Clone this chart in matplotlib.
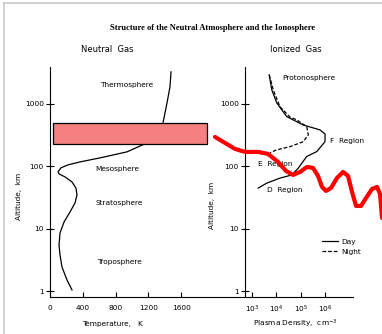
import numpy as np
import matplotlib
matplotlib.use("Agg")
import matplotlib.pyplot as plt
from matplotlib.patches import Rectangle
from matplotlib.lines import Line2D

# neutral gas: temperature profile (K) vs altitude (km)
temp_k = [268, 207, 146, 122, 110, 122, 171, 244, 305, 329, 317, 268, 183, 110, 98,
          134, 220, 366, 610, 939, 1183, 1305, 1378, 1427, 1463, 1476]
temp_alt = [1.06, 1.53, 2.47, 3.84, 5.55, 8.63, 12.9, 18.7, 26, 35, 45, 56.5, 68, 76, 82,
            95, 106, 118, 137, 171, 238, 319, 497, 1037, 1871, 3250]

# ionized gas: plasma density (cm^-3) vs altitude (km)
day_n = [5.1e3, 6.5e3, 1.04e4, 2.67e4, 1.25e5, 6.2e5, 1.0e6, 1.0e6, 4.6e5, 1.77e5,
         1.1e5, 8.0e4, 4.3e4, 1.4e4, 4.0e3, 1.8e3]
day_alt = [2910, 1675, 1038, 627, 461, 384, 331, 249, 173, 144, 112, 94, 73, 65, 54, 45]
night_n = [5.1e3, 7.5e3, 1.4e4, 3.6e4, 6.9e4, 1.77e5, 2.06e5, 1.28e5, 3.65e4, 1.04e4, 5.5e3]
night_alt = [2910, 1675, 905, 617, 555, 433, 319, 249, 207, 184, 166]

# overlay marks (red box on left panel, red wave in right panel coords, log10 values)
box_t = [37, 1915]
box_alt = [229, 497]
wave_logn = [1.479, 1.890, 2.301, 2.712, 3.247, 3.658, 4.069, 4.397, 4.685, 4.973, 5.261,
             5.507, 5.713, 5.877, 6.041, 6.247, 6.494, 6.740, 6.946, 7.110, 7.275, 7.480,
             7.686, 7.932, 8.138, 8.261, 8.343]
wave_logalt = [2.472, 2.376, 2.280, 2.232, 2.232, 2.200, 2.072, 1.928, 1.864, 1.912, 1.992,
               1.976, 1.848, 1.672, 1.608, 1.656, 1.816, 1.912, 1.848, 1.592, 1.368, 1.368,
               1.496, 1.640, 1.672, 1.560, 1.176]

W, H = 382, 334
fig = plt.figure(figsize=(W / 100, H / 100), dpi=100)
fig.patch.set_facecolor("white")

sans = "DejaVu Sans"
fs = 5.3

def ax_rect(x0, x1, y0, y1):
    return [x0 / W, 1 - y1 / H, (x1 - x0) / W, (y1 - y0) / H]

ylim = (10 ** -0.088, 10 ** 3.59)

ax1 = fig.add_axes(ax_rect(50, 245, 67, 297))
ax2 = fig.add_axes(ax_rect(245, 353, 67, 297))

for ax in (ax1, ax2):
    ax.set_facecolor("none")
    ax.set_yscale("log")
    ax.set_ylim(*ylim)
    for s in ("top", "right"):
        ax.spines[s].set_visible(False)
    for s in ("left", "bottom"):
        ax.spines[s].set_linewidth(0.8)
    ax.set_yticks([1, 10, 100, 1000])
    ax.set_yticklabels(["1", "10", "100", "1000"])
    ax.yaxis.set_minor_locator(matplotlib.ticker.NullLocator())
    ax.tick_params(axis="y", direction="inout", length=6, width=0.8, pad=1.5, labelsize=fs)
    ax.tick_params(axis="x", direction="in", length=3.5, width=0.8, pad=5.5, labelsize=fs)

# left panel
ax1.set_xlim(0, 2378)
ax1.set_xticks([0, 400, 800, 1200, 1600])
ax1.plot(temp_k, temp_alt, color="black", lw=0.9, clip_on=False, solid_joinstyle="round")
ax1.text(939, 2014, "Thermosphere", fontsize=fs, ha="center", va="center", family=sans)
ax1.text(817, 91, "Mesosphere", fontsize=fs, ha="center", va="center", family=sans)
ax1.text(841, 26, "Stratosphere", fontsize=fs, ha="center", va="center", family=sans)
ax1.text(841, 3.0, "Troposphere", fontsize=fs, ha="center", va="center", family=sans)
ax1.add_patch(Rectangle((box_t[0], box_alt[0]), box_t[1] - box_t[0], box_alt[1] - box_alt[0],
                        facecolor="#f48080", edgecolor="black", lw=0.9, zorder=5, clip_on=False))

# right panel
ax2.set_xscale("log")
ax2.set_xlim(10 ** 2.712, 10 ** 7.15)
ax2.set_xticks([1e3, 1e4, 1e5, 1e6])
ax2.set_xticklabels([r"$10^3$", r"$10^4$", r"$10^5$", r"$10^6$"])
ax2.xaxis.set_minor_locator(matplotlib.ticker.NullLocator())
ax2.tick_params(axis="x", pad=4.5)
ax2.plot(day_n, day_alt, color="black", lw=0.9, label="Day", clip_on=False, solid_joinstyle="round")
ax2.plot(night_n, night_alt, color="black", lw=0.9, ls=(0, (3, 1.5)), label="Night", clip_on=False)
ax2.text(10 ** 4.233, 2600, "Protonosphere", fontsize=fs, ha="left", va="center", family=sans)
ax2.text(10 ** 6.206, 256, "F  Region", fontsize=fs, ha="left", va="center", family=sans)
ax2.text(10 ** 3.247, 110, "E  Region", fontsize=fs, ha="left", va="center", family=sans)
ax2.text(10 ** 3.617, 42, "D  Region", fontsize=fs, ha="left", va="center", family=sans)
leg = ax2.legend(loc="upper left", bbox_to_anchor=(0.71, 0.255), frameon=False, fontsize=fs,
                 handlelength=2.2, handletextpad=0.5, labelspacing=0.6, borderpad=0,
                 borderaxespad=0)
leg.set_zorder(10)
ax2.plot(10 ** np.array(wave_logn), 10 ** np.array(wave_logalt), color="#ff0000", lw=3.0,
         solid_capstyle="round", solid_joinstyle="round", clip_on=False, zorder=20)

# titles and axis labels
fig.text(213 / W, 1 - 28 / H, "Structure of the Neutral Atmosphere and the Ionosphere",
         fontsize=6.1, fontweight="bold", family="Liberation Serif", ha="center", va="center")
fig.text(107 / W, 1 - 50 / H, "Neutral  Gas", fontsize=6, ha="center", va="center", family=sans)
fig.text(296 / W, 1 - 50 / H, "Ionized  Gas", fontsize=6, ha="center", va="center", family=sans)
fig.text(19 / W, 1 - 196 / H, "Altitude,  km", rotation=90, fontsize=fs, ha="center", va="center", family=sans)
fig.text(212 / W, 1 - 205 / H, "Altitude,  km", rotation=90, fontsize=fs, ha="center", va="center", family=sans)
fig.text(112 / W, 1 - 324 / H, "Temperature,   K", fontsize=fs, ha="center", va="center", family=sans)
fig.text(295 / W, 1 - 324 / H, r"Plasma Density,  cm$^{-3}$", fontsize=fs, ha="center", va="center", family=sans)

# scan frame
fig.add_artist(Line2D([4 / W, 1], [1 - 3 / H, 1 - 3 / H], color="#c8c8c8", lw=1.2))
fig.add_artist(Line2D([4 / W, 4 / W], [0, 1 - 3 / H], color="#c8c8c8", lw=1.2))

fig.savefig("out.png", dpi=100)
